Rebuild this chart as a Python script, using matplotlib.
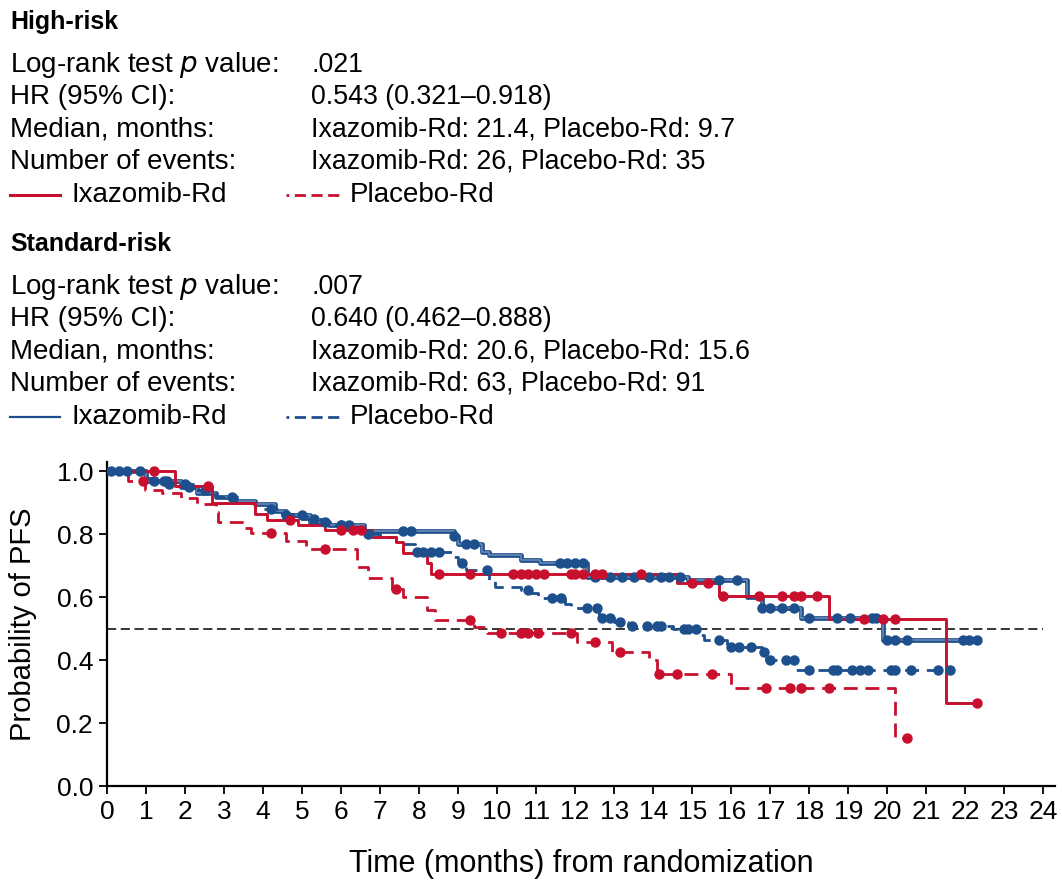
import matplotlib
matplotlib.use("Agg")
import matplotlib.pyplot as plt
import matplotlib.patheffects as pe
import numpy as np

plt.rcParams['font.family'] = ['Liberation Sans', 'DejaVu Sans']

RED = '#C8102E'
BLUE = '#1D4F8C'

# High-risk, ixazomib-Rd (red solid)
hr_ixa_t = [0, 1.75, 2.7, 3.8, 4.1, 4.9, 5.6, 6.8, 7.4, 7.6, 8.2, 8.3, 14.6, 15.7, 18.5, 21.5]
hr_ixa_s = [1.0, 0.955, 0.90, 0.865, 0.845, 0.83, 0.815, 0.79, 0.775, 0.74, 0.71, 0.675, 0.645, 0.605, 0.53, 0.265]
hr_ixa_end = 22.3
hr_ixa_cens = [1.2, 2.6, 4.7, 6.0, 6.3, 6.5, 8.5, 9.3, 10.4, 10.6, 10.8, 11.0, 11.2, 11.9, 12.0,
               12.2, 12.5, 12.7, 13.7, 15.0, 15.4, 15.8, 16.7, 17.3, 17.6, 17.8, 18.2, 19.4, 19.9,
               20.2, 22.3]

# High-risk, placebo-Rd (red dashed)
hr_pla_t = [0, 0.55, 0.97, 1.4, 1.9, 2.3, 2.8, 2.85, 3.5, 3.7, 4.6, 5.1, 6.4, 6.7, 7.3, 7.6, 8.2,
            8.4, 9.4, 9.75, 12.05, 12.95, 13.9, 14.1, 16.0, 20.2]
hr_pla_s = [1.0, 0.97, 0.94, 0.93, 0.915, 0.895, 0.87, 0.84, 0.82, 0.805, 0.78, 0.755, 0.695, 0.66,
            0.625, 0.60, 0.56, 0.527, 0.505, 0.486, 0.457, 0.425, 0.40, 0.357, 0.31, 0.152]
hr_pla_end = 20.5
hr_pla_cens = [0.92, 4.2, 5.6, 7.4, 9.3, 10.1, 10.6, 10.8, 11.05, 11.9, 12.5, 13.15, 14.15, 14.6,
               15.5, 16.9, 17.5, 17.8, 18.5, 20.5]

# Standard-risk, ixazomib-Rd (blue solid)
sr_ixa_t = [0, 1.0, 1.9, 2.3, 2.8, 3.3, 3.8, 4.3, 4.6, 5.2, 5.7, 6.6, 8.9, 9.0, 9.6, 9.8, 10.6,
            11.1, 12.3, 14.9, 16.4, 16.8, 17.8, 19.9]
sr_ixa_s = [1.0, 0.97, 0.95, 0.93, 0.92, 0.905, 0.895, 0.875, 0.86, 0.84, 0.83, 0.81, 0.795, 0.77,
            0.745, 0.733, 0.717, 0.708, 0.665, 0.655, 0.60, 0.565, 0.535, 0.464]
sr_ixa_end = 22.3
sr_ixa_cens = [0.1, 0.5, 0.85, 1.2, 1.45, 1.55, 2.1, 3.2, 4.6, 5.0, 5.6, 6.0, 6.2, 7.6, 7.8, 8.9,
               9.2, 9.4, 11.6, 11.8, 12.0, 12.2, 12.5, 12.9, 13.2, 13.5, 13.9, 14.2, 14.4, 14.7,
               15.7, 16.15, 16.8, 17.0, 17.3, 17.6, 18.0, 18.7, 19.05, 19.6, 19.7, 20.0, 20.2,
               20.5, 21.95, 22.1, 22.3]

# Standard-risk, placebo-Rd (blue dashed)
sr_pla_t = [0, 0.9, 1.5, 2.2, 2.8, 3.3, 3.8, 4.4, 5.0, 5.6, 6.2, 6.6, 7.0, 7.4, 7.9, 8.85, 9.0,
            9.2, 9.8, 9.95, 10.6, 10.85, 11.05, 11.75, 11.9, 12.6, 13.0, 13.35, 14.5, 15.15, 15.3,
            15.9, 16.8, 16.9, 17.65]
sr_pla_s = [1.0, 0.98, 0.96, 0.94, 0.92, 0.90, 0.88, 0.865, 0.85, 0.83, 0.82, 0.80, 0.79, 0.77,
            0.743, 0.727, 0.708, 0.686, 0.654, 0.632, 0.622, 0.612, 0.597, 0.58, 0.565, 0.535,
            0.522, 0.51, 0.50, 0.48, 0.465, 0.442, 0.425, 0.40, 0.368]
sr_pla_end = 21.6
sr_pla_cens = [0.3, 1.6, 2.0, 2.5, 4.2, 5.3, 6.0, 6.7, 7.95, 8.1, 8.3, 8.5, 9.1, 9.75, 10.8, 11.4,
               11.65, 12.3, 12.55, 12.7, 12.9, 13.15, 13.45, 13.85, 14.1, 14.2, 14.8, 14.9, 15.1,
               15.7, 16.0, 16.2, 16.5, 16.85, 17.0, 17.4, 17.6, 18.0, 18.6, 18.7, 19.1, 19.3,
               19.5, 20.1, 20.2, 20.6, 21.3, 21.6]

x_ticks = list(range(0, 25))
y_ticks = [0.0, 0.2, 0.4, 0.6, 0.8, 1.0]

fig = plt.figure(figsize=(10.62, 8.82), dpi=100)

# ---- header text ----
FS = 20
col2 = 311 / 1062
LEG_DASH = (0, (1, 2, 4, 2, 4, 2, 4, 2))


def fy(py):
    return 1 - py / 882


def header(title, p, hr, med, ev, top, color):
    fig.text(10 / 1062, fy(top), title, fontsize=18, fontweight='bold', va='center')
    rows = [("Log-rank test $\\it{p}$ value:", p), ("HR (95% CI):", hr),
            ("Median, months:", med), ("Number of events:", ev)]
    for i, (a, b) in enumerate(rows):
        y = fy(top + 43 + i * 32.3)
        fig.text(10 / 1062, y, a, fontsize=FS, va='center')
        fig.text(col2, y, b, fontsize=19.3, va='center')
    y = fy(top + 173)
    fig.add_artist(plt.Line2D([10 / 1062, 60 / 1062], [y, y], color=color,
                              lw=2.2 if color == RED else 1.6))
    fig.text(72 / 1062, y, "Ixazomib-Rd", fontsize=FS, va='center')
    fig.add_artist(plt.Line2D([286 / 1062, 340 / 1062], [y, y], color=color, lw=2.0,
                              linestyle=LEG_DASH))
    fig.text(350 / 1062, y, "Placebo-Rd", fontsize=FS, va='center')


header("High-risk", ".021", "0.543 (0.321\u20130.918)",
       "Ixazomib-Rd: 21.4, Placebo-Rd: 9.7", "Ixazomib-Rd: 26, Placebo-Rd: 35",
       22, RED)
header("Standard-risk", ".007", "0.640 (0.462\u20130.888)",
       "Ixazomib-Rd: 20.6, Placebo-Rd: 15.6", "Ixazomib-Rd: 63, Placebo-Rd: 91",
       244, BLUE)

# ---- KM plot ----
ax = fig.add_axes([107 / 1062, 1 - 786 / 882, (1055 - 107) / 1062, (786 - 462) / 882])


def km(t, s, end, cens, color, ls, lw, blue_solid=False):
    xs = list(t) + [end]
    ys = list(s) + [s[-1]]
    line, = ax.step(xs, ys, where='post', color=color, linestyle=ls, lw=lw, zorder=3)
    if blue_solid:
        line.set_color('#6f8fbc')
        line.set_path_effects([pe.Stroke(linewidth=3.4, foreground=color), pe.Normal()])
    idx = np.searchsorted(np.array(t), np.array(cens), side='right') - 1
    cy = np.array(s)[idx]
    ax.plot(cens, cy, 'o', color=color, ms=6.5, zorder=4)


ax.axhline(0.5, xmin=0, xmax=24 / 24.3, color='black', lw=1.1, linestyle=(0, (6, 3)), zorder=2)
km(sr_ixa_t, sr_ixa_s, sr_ixa_end, sr_ixa_cens, BLUE, '-', 1.1, blue_solid=True)
km(sr_pla_t, sr_pla_s, sr_pla_end, sr_pla_cens, BLUE, (0, (5, 2.8)), 2.0)
km(hr_ixa_t, hr_ixa_s, hr_ixa_end, hr_ixa_cens, RED, '-', 2.1)
km(hr_pla_t, hr_pla_s, hr_pla_end, hr_pla_cens, RED, (0, (5, 2.8)), 2.0)

ax.set_xlim(0, 24.3)
ax.set_ylim(0, 1.03)
ax.set_xticks(x_ticks)
ax.set_yticks(y_ticks)
ax.set_yticklabels([f"{v:.1f}" for v in y_ticks])
ax.tick_params(labelsize=19, width=1.3, length=6, direction='out', pad=4)
for side in ['top', 'right']:
    ax.spines[side].set_visible(False)
for side in ['left', 'bottom']:
    ax.spines[side].set_linewidth(1.6)
ax.set_xlabel("Time (months) from randomization", fontsize=22, labelpad=18)
ax.set_ylabel("Probability of PFS", fontsize=21, labelpad=14)

fig.savefig("out.png", dpi=100)
